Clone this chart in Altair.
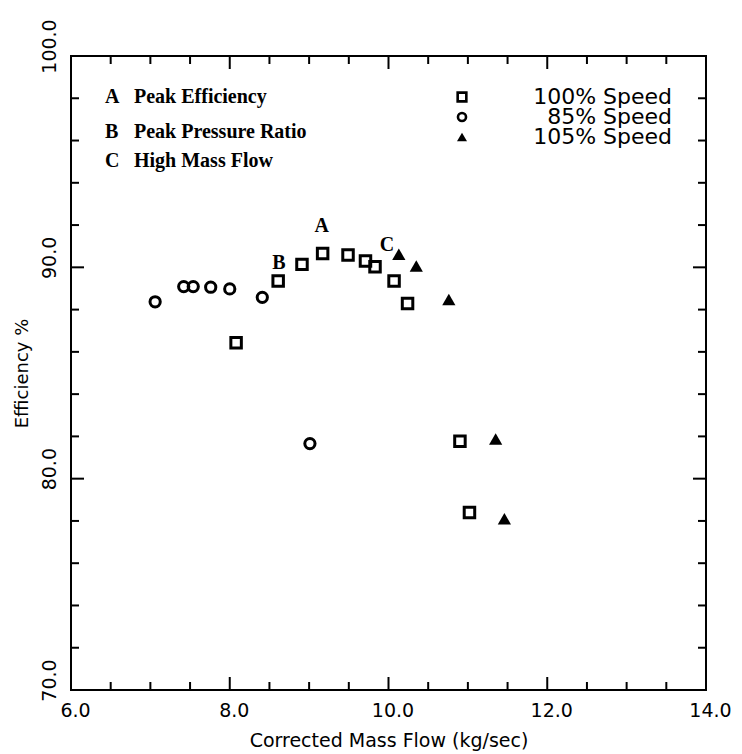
import altair as alt
import pandas as pd

# Compressor efficiency vs corrected mass flow, three speed lines
speed100_flow = [8.08, 8.61, 8.91, 9.17, 9.49, 9.71, 9.83, 10.07, 10.24, 10.90, 11.02]
speed100_eff = [86.43, 89.35, 90.14, 90.65, 90.58, 90.30, 90.03, 89.35, 88.29, 81.77, 78.40]

speed85_flow = [7.06, 7.42, 7.54, 7.76, 8.00, 8.41, 9.01]
speed85_eff = [88.37, 89.09, 89.09, 89.06, 88.98, 88.58, 81.66]

speed105_flow = [10.13, 10.35, 10.76, 11.35, 11.46]
speed105_eff = [90.62, 90.06, 88.48, 81.88, 78.10]

# Operating-point callouts
callout_letters = ["A", "B", "C"]
callout_flow = [9.16, 8.62, 9.98]
callout_eff = [91.95, 90.20, 91.05]
callout_names = ["Peak Efficiency", "Peak Pressure Ratio", "High Mass Flow"]

speed_labels = ["100% Speed", "85% Speed", "105% Speed"]

# Axis ticks
x_major = [6.0, 8.0, 10.0, 12.0, 14.0]
x_minor = [6.5, 7.0, 7.5, 8.5, 9.0, 9.5, 10.5, 11.0, 11.5, 12.5, 13.0, 13.5]
y_major = [70.0, 80.0, 90.0, 100.0]
y_minor = [72.0, 74.0, 76.0, 78.0, 82.0, 84.0, 86.0, 88.0, 92.0, 94.0, 96.0, 98.0]

W, H = 635, 634
SANS = "DejaVu Sans"
SERIF = "Liberation Serif"

x_scale = alt.Scale(domain=[6, 14], nice=False, zero=False)
y_scale = alt.Scale(domain=[70, 100], nice=False, zero=False)

x_axis = alt.Axis(
    values=x_major, format=".1f", title="Corrected Mass Flow (kg/sec)",
    domain=False, ticks=False, tickSize=0, grid=False,
    labelFont=SANS, labelFontSize=19, labelColor="black", labelPadding=11,
    labelOffset=4, labelFlush=False, labelOverlap=False,
    titleFont=SANS, titleFontSize=19, titleFontWeight="normal", titleColor="black",
    titleX=W / 2, titleY=50, titleAlign="center", titleBaseline="middle",
)
y_axis = alt.Axis(
    values=y_major, format=".1f", title="Efficiency %",
    domain=False, ticks=False, tickSize=0, grid=False,
    labelFont=SANS, labelFontSize=19, labelColor="black", labelPadding=12,
    labelAngle=270, labelAlign="center", labelBaseline="bottom",
    labelOffset=-10, labelFlush=False, labelOverlap=False,
    titleFont=SANS, titleFontSize=18, titleFontWeight="normal", titleColor="black",
    titleAngle=270, titleX=-49, titleY=H / 2, titleAlign="center", titleBaseline="middle",
)

# Only the first layer carries the axes; the rest share its scales
X_AX = alt.X("flow:Q", scale=x_scale, axis=x_axis)
Y_AX = alt.Y("eff:Q", scale=y_scale, axis=y_axis)
X = alt.X("flow:Q", scale=x_scale, axis=None)
Y = alt.Y("eff:Q", scale=y_scale, axis=None)


def frame(xs, ys):
    return pd.DataFrame({"flow": xs, "eff": ys})


df100 = frame(speed100_flow, speed100_eff)
df85 = frame(speed85_flow, speed85_eff)
df105 = frame(speed105_flow, speed105_eff)

squares = alt.Chart(df100).mark_point(
    shape="square", filled=False, size=110, color="black", strokeWidth=3, opacity=1
).encode(x=X_AX, y=Y_AX)
circles = alt.Chart(df85).mark_point(
    shape="circle", filled=False, size=105, color="black", strokeWidth=3, opacity=1
).encode(x=X, y=Y)
triangles = alt.Chart(df105).mark_point(
    shape="triangle-up", filled=True, size=175, color="black", opacity=1
).encode(x=X, y=Y)

callouts = alt.Chart(
    pd.DataFrame({"flow": callout_flow, "eff": callout_eff, "letter": callout_letters})
).mark_text(
    font=SERIF, fontSize=20, fontWeight="bold", color="black",
    align="center", baseline="middle"
).encode(x=X, y=Y, text="letter:N")


# Inward tick marks on all four sides
def xticks(values, length):
    d = pd.DataFrame({"flow": values})
    bottom = alt.Chart(d).mark_rule(color="black", strokeWidth=2).encode(
        x=X, y=alt.value(H), y2=alt.value(H - length))
    top = alt.Chart(d).mark_rule(color="black", strokeWidth=2).encode(
        x=X, y=alt.value(0), y2=alt.value(length))
    return [bottom, top]


def yticks(values, length):
    d = pd.DataFrame({"eff": values})
    left = alt.Chart(d).mark_rule(color="black", strokeWidth=2).encode(
        y=Y, x=alt.value(0), x2=alt.value(length))
    right = alt.Chart(d).mark_rule(color="black", strokeWidth=2).encode(
        y=Y, x=alt.value(W), x2=alt.value(W - length))
    return [left, right]


tick_layers = xticks(x_major, 13) + xticks(x_minor, 8) + yticks(y_major, 13) + yticks(y_minor, 8)

# Callout key (upper left)
key_layers = []
key_rows = [41, 76, 105]
for letter, name, ypix in zip(callout_letters, callout_names, key_rows):
    d = pd.DataFrame({"letter": [letter], "name": [name]})
    key_layers.append(alt.Chart(d).mark_text(
        font=SERIF, fontSize=20, fontWeight="bold", color="black",
        align="left", baseline="middle"
    ).encode(x=alt.value(34), y=alt.value(ypix), text="letter:N"))
    key_layers.append(alt.Chart(d).mark_text(
        font=SERIF, fontSize=20, fontWeight="bold", color="black",
        align="left", baseline="middle"
    ).encode(x=alt.value(63), y=alt.value(ypix), text="name:N"))

# Speed legend (upper right)
legend_rows = [41, 61, 81]
legend_marks = [
    dict(shape="square", filled=False, size=75, strokeWidth=2.6),
    dict(shape="circle", filled=False, size=65, strokeWidth=2.6),
    dict(shape="triangle-up", filled=True, size=100),
]
legend_layers = []
for label, ypix, mk in zip(speed_labels, legend_rows, legend_marks):
    d = pd.DataFrame({"label": [label]})
    legend_layers.append(alt.Chart(d).mark_point(color="black", opacity=1, **mk).encode(
        x=alt.value(391), y=alt.value(ypix)))
    legend_layers.append(alt.Chart(d).mark_text(
        font=SANS, fontSize=22, color="black", align="right", baseline="middle"
    ).encode(x=alt.value(601), y=alt.value(ypix), text="label:N"))

chart = alt.layer(
    squares, circles, triangles, callouts, *tick_layers, *key_layers, *legend_layers
).resolve_axis(
    x="independent", y="independent"
).properties(
    width=W, height=H,
    autosize=alt.AutoSizeParams(type="none"),
    padding={"left": 71, "top": 56, "right": 36, "bottom": 64},
    background="white",
).configure_view(
    stroke="black", strokeWidth=2
)

chart.save("out.html", embed_options={"renderer": "svg", "actions": False})
